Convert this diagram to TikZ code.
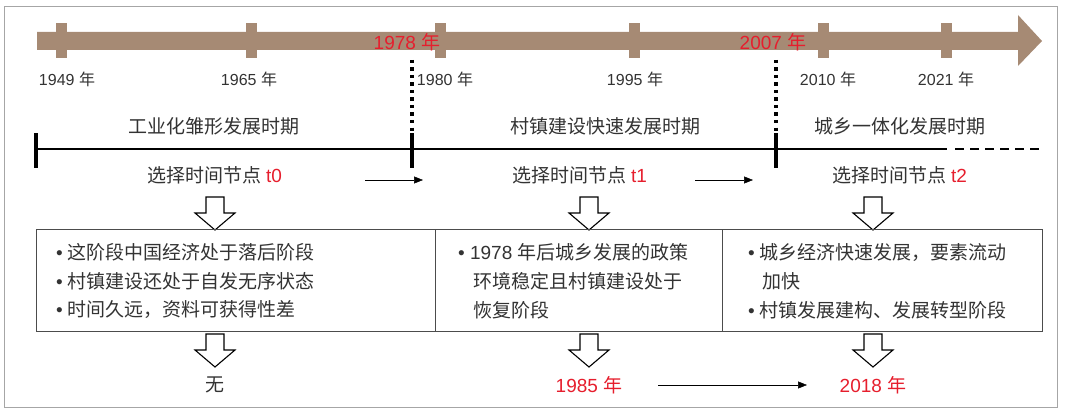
\documentclass[tikz,border=0pt]{standalone}
\usepackage{fontspec}
\setmainfont{Noto Sans CJK SC}
\newfontfamily\lat{Liberation Sans}
\usetikzlibrary{arrows.meta}
\definecolor{taupe}{RGB}{166,138,116}
\definecolor{txt}{RGB}{51,51,51}
\definecolor{redt}{RGB}{230,30,45}
\newcommand{\latn}[1]{{\lat #1}}
\begin{document}
\begin{tikzpicture}[x=1pt,y=-1pt,
  yr/.style={font=\fontsize{16}{16}\selectfont,text=txt,inner sep=0},
  ryr/.style={font=\fontsize{19}{19}\selectfont,text=redt,inner sep=0},
  lbl/.style={font=\fontsize{19}{19}\selectfont,text=txt,inner sep=0},
  bl/.style={font=\fontsize{19}{19}\selectfont,text=txt,inner sep=0,anchor=west},
  tbox/.style={draw=black!70,line width=0.8pt,inner sep=0,anchor=north west},
  sarr/.style={-{Triangle[length=9pt,width=7pt]},line width=0.5pt},
  pics/harrow/.style={code={\draw[line width=1.1pt,fill=white] (-9,0)--(9,0)--(9,16)--(20,16)--(0,33)--(-20,16)--(-9,16)--cycle;}}]
\useasboundingbox (0,0) rectangle (1080,412);
\draw[gray!70,line width=1pt] (4,7) rectangle (1057,407);
% timeline band
\fill[taupe] (37,32)--(1018,32)--(1018,15)--(1042,41)--(1018,66)--(1018,50)--(37,50)--cycle;
\foreach \x in {61,251,440,634,823,946} \fill[taupe] (\x-5.5,23) rectangle (\x+5.5,58);
\node[yr] (y1949) at (67,79) {\latn{1949 }年};
\node[yr] (y1965) at (249,79) {\latn{1965 }年};
\node[yr] (y1980) at (445,79) {\latn{1980 }年};
\node[yr] (y1995) at (635,79) {\latn{1995 }年};
\node[yr] (y2010) at (828,79) {\latn{2010 }年};
\node[yr] (y2021) at (946,79) {\latn{2021 }年};
\node[ryr] (y1978) at (407,42) {\latn{1978 }年};
\node[ryr] (y2007) at (773,42) {\latn{2007 }年};
% dotted lines
\coordinate (d1t) at (412,60); \coordinate (d1b) at (412,133);
\coordinate (d2t) at (776,60); \coordinate (d2b) at (776,133);
\draw[line width=3.5pt,dash pattern=on 3.5pt off 4pt] (d1t)--(d1b);
\draw[line width=3.5pt,dash pattern=on 3.5pt off 4pt] (d2t)--(d2b);
% main line
\coordinate (l0) at (36,149); \coordinate (l1) at (947,149); \coordinate (l2) at (1040,149);
\draw[line width=1.6pt] (l0)--(l1);
\draw[line width=1.6pt,dash pattern=on 9pt off 6pt] (955,149)--(l2);
\foreach \x in {36,412,776} \draw[line width=3.5pt] (\x,133)--(\x,168);
\node[lbl] (p1) at (214,126) {工业化雏形发展时期};
\node[lbl] (p2) at (605,126) {村镇建设快速发展时期};
\node[lbl] (p3) at (900,126) {城乡一体化发展时期};
\node[lbl] (s0) at (215,175) {选择时间节点 \textcolor{redt}{\latn{t0}}};
\node[lbl] (s1) at (580,175) {选择时间节点 \textcolor{redt}{\latn{t1}}};
\node[lbl] (s2) at (900,175) {选择时间节点 \textcolor{redt}{\latn{t2}}};
\coordinate (a1s) at (365,180); \coordinate (a1e) at (423,180);
\coordinate (a2s) at (695,180); \coordinate (a2e) at (753,180);
\draw[sarr] (a1s)--(a1e);
\draw[sarr] (a2s)--(a2e);
% hollow arrows
\pic at (215,197) {harrow}; \pic at (589,197) {harrow}; \pic at (873,197) {harrow};
\pic at (215,334) {harrow}; \pic at (589,334) {harrow}; \pic at (873,334) {harrow};
% boxes
\node[tbox,minimum width=399pt,minimum height=102pt] (b1) at (36,229) {};
\node[tbox,minimum width=287pt,minimum height=102pt] (b2) at (435,229) {};
\node[tbox,minimum width=320pt,minimum height=102pt] (b3) at (722,229) {};
\node[bl] (t11) at (56,252) {\latn{•} 这阶段中国经济处于落后阶段};
\node[bl] (t12) at (56,281) {\latn{•} 村镇建设还处于自发无序状态};
\node[bl] (t13) at (56,310) {\latn{•} 时间久远，资料可获得性差};
\node[bl] (t21) at (458,252) {\latn{• 1978 }年后城乡发展的政策};
\node[bl] (t22) at (473,281) {环境稳定且村镇建设处于};
\node[bl] (t23) at (473,310) {恢复阶段};
\node[bl] (t31) at (748,252) {\latn{•} 城乡经济快速发展，要素流动};
\node[bl] (t32) at (762,281) {加快};
\node[bl] (t33) at (748,310) {\latn{•} 村镇发展建构、发展转型阶段};
\node[lbl] (r0) at (215,385) {无};
\node[ryr] (r1) at (589,385) {\latn{1985 }年};
\node[ryr] (r2) at (873,385) {\latn{2018 }年};
\draw[sarr] (658,385)--(807,385);
\end{tikzpicture}
\end{document}
